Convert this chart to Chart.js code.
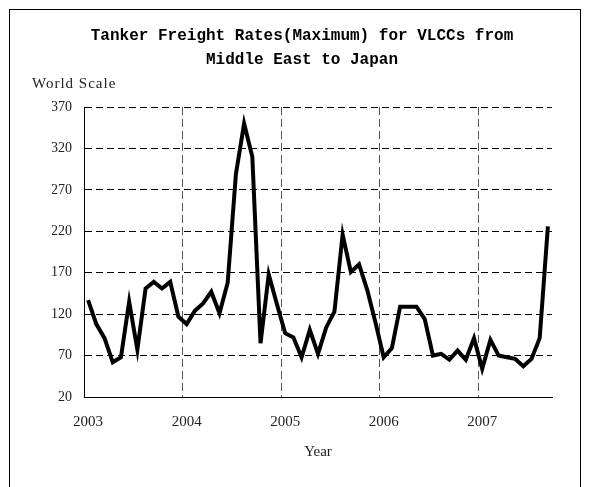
<!DOCTYPE html>
<html>
<head>
<meta charset="utf-8">
<script src="https://cdn.jsdelivr.net/npm/chart.js@4.4.1/dist/chart.umd.min.js"></script>
<style>
  html, body { margin: 0; padding: 0; background: #fff; }
  #wrap { width: 589px; height: 487px; }
</style>
</head>
<body>
<div id="wrap"><canvas id="rateChart" width="589" height="487"></canvas></div>
<script>
// monthly maximum rates, Jan 2003 .. Sep 2007 (World Scale)
const years = ['2003', '2004', '2005', '2006', '2007'];
const rates2003 = [137, 108, 91, 62, 68, 135, 77, 151, 159, 151, 159, 117];
const rates2004 = [108, 124, 133, 147, 121, 158, 289, 350, 310, 85, 168, 132];
const rates2005 = [97, 92, 68, 101, 72, 104, 123, 216, 171, 180, 149, 110];
const rates2006 = [68, 79, 129, 129, 129, 114, 70, 72, 65, 76, 65, 91];
const rates2007 = [54, 89, 70, 68, 66, 57, 66, 91, 226];
const yTicks = [20, 70, 120, 170, 220, 270, 320, 370];

const rates = [].concat(rates2003, rates2004, rates2005, rates2006, rates2007);
const months = rates.map(function(v, i) {
    return years[Math.floor(i / 12)] + '-' + String(i % 12 + 1).padStart(2, '0');
});

const serif = 'Liberation Serif';

// frame round the whole chart plus the "World Scale" caption
const extras = {
    id: 'extras',
    beforeDraw: function(chart) {
        const ctx = chart.ctx;
        ctx.save();
        ctx.fillStyle = '#fff';
        ctx.fillRect(0, 0, chart.width, chart.height);
        ctx.strokeStyle = '#000';
        ctx.lineWidth = 1;
        ctx.strokeRect(9.5, 9.5, 571, 500);
        ctx.restore();
    },
    afterDraw: function(chart) {
        const ctx = chart.ctx;
        ctx.save();
        ctx.font = '15px "' + serif + '"';
        ctx.fillStyle = '#222';
        ctx.textBaseline = 'middle';
        ctx.textAlign = 'left';
        ctx.letterSpacing = '1px';
        ctx.fillText('World Scale', 32, 84);
        ctx.restore();
    }
};

const ctxRate = document.getElementById('rateChart').getContext('2d');
new Chart(ctxRate, {
    type: 'line',
    data: {
        labels: months,
        datasets: [{
            label: 'Freight rate',
            data: rates,
            borderColor: '#000',
            borderWidth: 4,
            pointRadius: 0,
            tension: 0,
            fill: false
        }]
    },
    options: {
        responsive: false,
        animation: false,
        layout: {
            padding: { left: 52, right: 37, top: 0, bottom: 0 }
        },
        plugins: {
            legend: { display: false },
            tooltip: { enabled: false },
            title: {
                display: true,
                text: ['Tanker Freight Rates(Maximum) for VLCCs from', 'Middle East to Japan'],
                color: '#000',
                font: { family: 'Liberation Mono', size: 16, weight: 'bold', lineHeight: 1.5 },
                padding: { top: 24, bottom: 35 }
            }
        },
        scales: {
            x: {
                offset: true,
                grid: {
                    offset: true,
                    drawTicks: false,
                    lineWidth: 1,
                    color: function(c) {
                        return (c.index % 12 === 0 && c.index > 0) ? '#555' : 'rgba(0,0,0,0)';
                    }
                },
                border: { display: true, color: '#000', width: 1, dash: [8, 4] },
                ticks: {
                    autoSkip: false,
                    maxRotation: 0,
                    padding: 16,
                    color: '#222',
                    font: { family: serif, size: 15 },
                    callback: function(v, i) {
                        return i % 12 === 0 ? years[i / 12] : '';
                    }
                },
                title: {
                    display: true,
                    text: 'Year',
                    color: '#222',
                    font: { family: serif, size: 15 },
                    padding: { top: 0, bottom: 26 }
                },
                afterFit: function(scale) { scale.height = 90; }
            },
            y: {
                min: 20,
                max: 370,
                afterBuildTicks: function(scale) {
                    scale.ticks = yTicks.map(function(v) { return { value: v }; });
                },
                grid: {
                    drawTicks: false,
                    color: '#000',
                    lineWidth: 1
                },
                border: { display: true, color: '#000', width: 1, dash: [7, 4] },
                ticks: {
                    padding: 12,
                    color: '#222',
                    font: { family: serif, size: 14 }
                },
                afterFit: function(scale) { scale.width = 32; }
            }
        }
    },
    plugins: [extras]
});
</script>
</body>
</html>
